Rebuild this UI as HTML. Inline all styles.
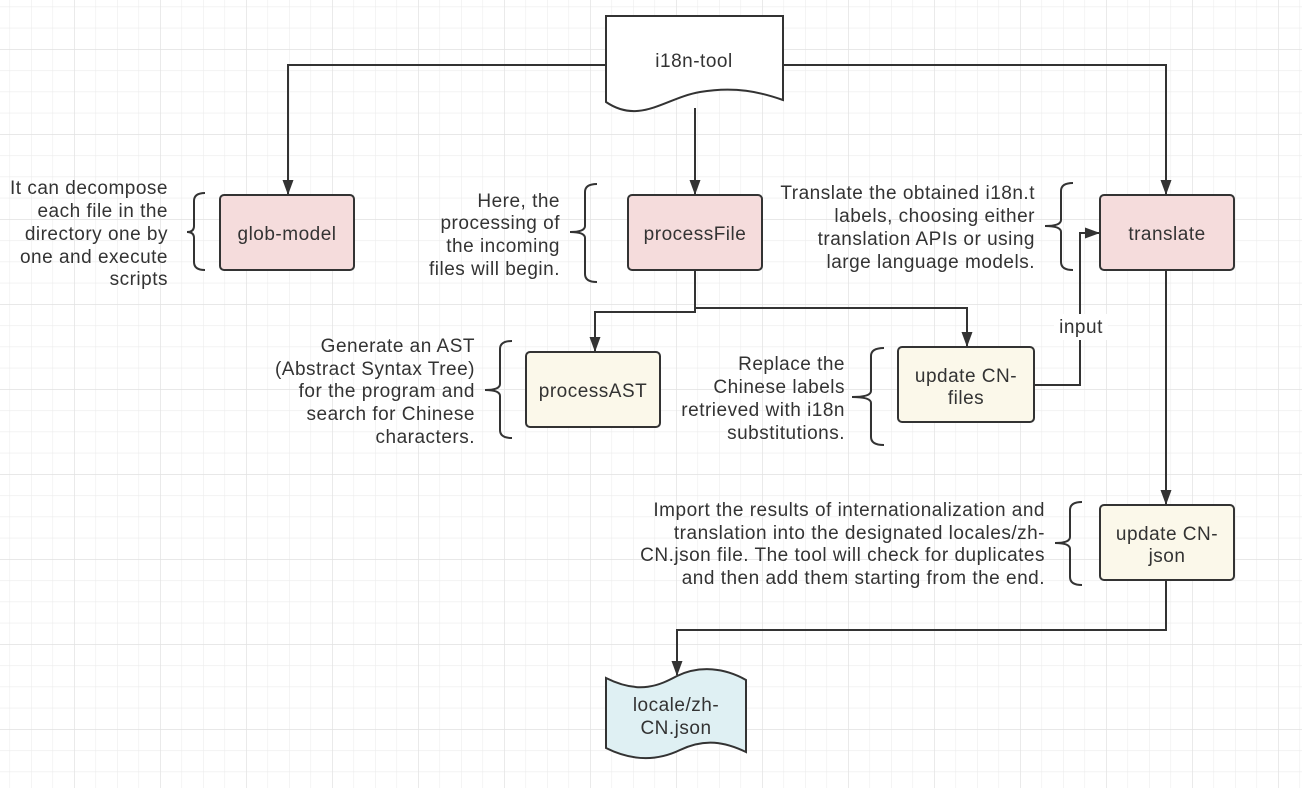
<!DOCTYPE html>
<html><head><meta charset="utf-8"><style>html,body{margin:0;padding:0;background:#fff}svg{display:block}text{font-family:"Liberation Sans",sans-serif;font-size:19px;letter-spacing:0.5px;fill:#333}</style></head>
<body>
<svg width="1302" height="788" viewBox="0 0 1302 788" xmlns="http://www.w3.org/2000/svg">
<defs>
<pattern id="sg" x="-12" y="-36" width="21.5" height="21.25" patternUnits="userSpaceOnUse"><path d="M0 0H21.5M0 0V21.25" stroke="#ececec" stroke-width="1.2" fill="none"/></pattern>
<pattern id="bg" x="-12" y="-36" width="86" height="85" patternUnits="userSpaceOnUse"><path d="M0 0H86M0 0V85" stroke="#e2e2e2" stroke-width="1.4" fill="none"/></pattern>
<marker id="ar" markerWidth="16" markerHeight="12" refX="14" refY="5.5" orient="auto" markerUnits="userSpaceOnUse"><path d="M0 0L15 5.5L0 11Z" fill="#333"/></marker>
</defs>
<rect width="1302" height="788" fill="#fff"/>
<rect width="1302" height="788" fill="url(#sg)"/>
<rect width="1302" height="788" fill="url(#bg)"/>

<g stroke="#333" stroke-width="2" fill="none">
<path d="M606 65H288V194" marker-end="url(#ar)"/>
<path d="M783 65H1166V194" marker-end="url(#ar)"/>
<path d="M695 108V194" marker-end="url(#ar)"/>
<path d="M695 270V312H595V351" marker-end="url(#ar)"/>
<path d="M695 308H967V346" marker-end="url(#ar)"/>
<path d="M1034 385H1080V233H1099" marker-end="url(#ar)"/>
<path d="M1166 270V504" marker-end="url(#ar)"/>
<path d="M1166 580V630H677V675" marker-end="url(#ar)"/>
</g>
<rect x="1054" y="314" width="54" height="26" fill="#fff"/>
<text x="1081" y="333" text-anchor="middle">input</text>

<!-- i18n-tool -->
<path d="M606 16H783V100C760 92 735 86 700 92C665 98 640 125 606 102Z" fill="#fff" stroke="#333" stroke-width="2"/>
<text x="694" y="67" text-anchor="middle">i18n-tool</text>

<!-- locale doc -->
<path d="M606 678C640 695 660 685 677 676C700 665 725 668 746 680V752C725 742 705 738 680 750C655 762 630 760 606 748Z" fill="#dff0f3" stroke="#333" stroke-width="2"/>
<text x="676" y="711" text-anchor="middle">locale/zh-</text>
<text x="676" y="734" text-anchor="middle">CN.json</text>

<!-- boxes -->
<g stroke="#333" stroke-width="2">
<rect x="220" y="195" width="134" height="75" rx="4" fill="#f5dcdc"/>
<rect x="628" y="195" width="134" height="75" rx="4" fill="#f5dcdc"/>
<rect x="1100" y="195" width="134" height="75" rx="4" fill="#f5dcdc"/>
<rect x="526" y="352" width="134" height="75" rx="4" fill="#fbf8ea"/>
<rect x="898" y="347" width="136" height="75" rx="4" fill="#fbf8ea"/>
<rect x="1100" y="505" width="134" height="75" rx="4" fill="#fbf8ea"/>
</g>
<text x="287" y="240" text-anchor="middle">glob-model</text>
<text x="695" y="240" text-anchor="middle">processFile</text>
<text x="1167" y="240" text-anchor="middle">translate</text>
<text x="593" y="397" text-anchor="middle">processAST</text>
<text x="966" y="382" text-anchor="middle">update CN-</text>
<text x="966" y="404" text-anchor="middle">files</text>
<text x="1167" y="540" text-anchor="middle">update CN-</text>
<text x="1167" y="562" text-anchor="middle">json</text>

<!-- braces -->
<g stroke="#333" stroke-width="2" fill="none">
<path d="M205 193Q194 193 194 201V226Q194 232 187 232Q194 232 194 238V262Q194 270 205 270"/>
<path d="M597 184Q585 184 585 192V226Q585 232 570 232Q585 232 585 238V274Q585 282 597 282"/>
<path d="M1073 183Q1061 183 1061 191V220Q1061 226 1045 226Q1061 226 1061 232V262Q1061 270 1073 270"/>
<path d="M512 341Q500 341 500 349V384Q500 390 485 390Q500 390 500 396V430Q500 438 512 438"/>
<path d="M884 348Q871 348 871 356V391Q871 397 852 397Q871 397 871 403V437Q871 445 884 445"/>
<path d="M1082 502Q1070 502 1070 510V537Q1070 543 1055 543Q1070 543 1070 549V577Q1070 585 1082 585"/>
</g>

<!-- descriptions -->
<g text-anchor="end">
<text x="168" y="194">It can decompose</text>
<text x="168" y="217">each file in the</text>
<text x="168" y="240">directory one by</text>
<text x="168" y="263">one and execute</text>
<text x="168" y="285">scripts</text>

<text x="560" y="207">Here, the</text>
<text x="560" y="229">processing of</text>
<text x="560" y="252">the incoming</text>
<text x="560" y="275">files will begin.</text>

<text x="1035" y="199">Translate the obtained i18n.t</text>
<text x="1035" y="222">labels, choosing either</text>
<text x="1035" y="245">translation APIs or using</text>
<text x="1035" y="268">large language models.</text>

<text x="475" y="352">Generate an AST</text>
<text x="475" y="375">(Abstract Syntax Tree)</text>
<text x="475" y="397">for the program and</text>
<text x="475" y="420">search for Chinese</text>
<text x="475" y="443">characters.</text>

<text x="845" y="370">Replace the</text>
<text x="845" y="393">Chinese labels</text>
<text x="845" y="416">retrieved with i18n</text>
<text x="845" y="439">substitutions.</text>

<text x="1045" y="516">Import the results of internationalization and</text>
<text x="1045" y="539">translation into the designated locales/zh-</text>
<text x="1045" y="561">CN.json file. The tool will check for duplicates</text>
<text x="1045" y="584">and then add them starting from the end.</text>
</g>
</svg>
</body></html>
